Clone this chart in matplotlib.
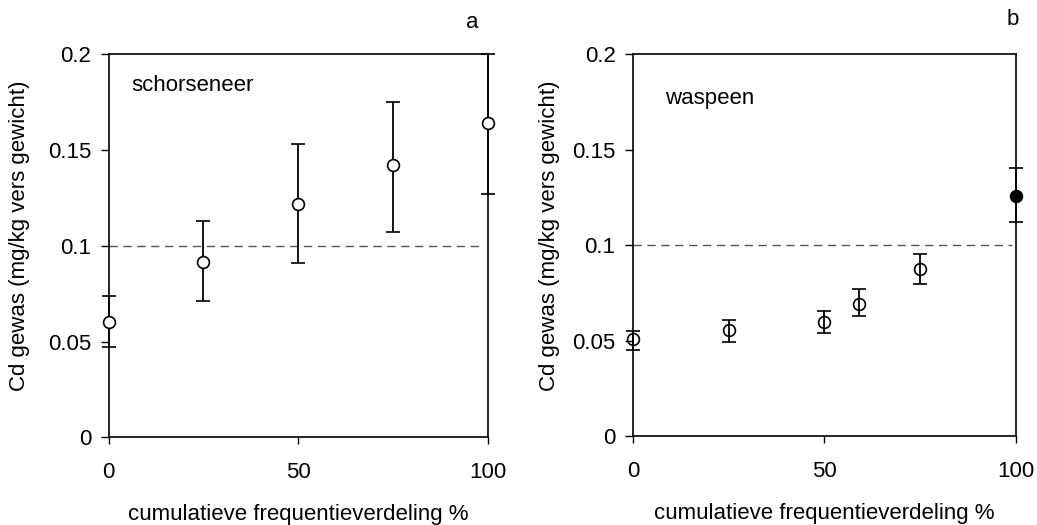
import matplotlib.pyplot as plt

plt.rcParams['font.family'] = ['Liberation Sans', 'DejaVu Sans']
plt.rcParams['font.size'] = 16

# paneel a: schorseneer
x_a = [0, 25, 50, 75, 100]
y_a = [0.060, 0.0915, 0.122, 0.142, 0.164]
lo_a = [0.047, 0.071, 0.091, 0.107, 0.127]
hi_a = [0.074, 0.113, 0.153, 0.175, 0.200]

# paneel b: waspeen (laatste punt gevuld)
x_b = [0, 25, 50, 59, 75]
y_b = [0.051, 0.0555, 0.060, 0.0695, 0.0875]
lo_b = [0.045, 0.0495, 0.054, 0.063, 0.080]
hi_b = [0.055, 0.061, 0.0655, 0.077, 0.0955]
x_b_vol = [100]
y_b_vol = [0.126]
lo_b_vol = [0.112]
hi_b_vol = [0.1405]

norm = 0.1
xticks = [0, 50, 100]
yticks = [0, 0.05, 0.1, 0.15, 0.2]
ytick_labels = ['0', '0.05', '0.1', '0.15', '0.2']

fig = plt.figure(figsize=(10.37, 5.25), dpi=100)
ax1 = fig.add_axes([0.1048, 0.167, 0.3655, 0.7296])
ax2 = fig.add_axes([0.6104, 0.1686, 0.3691, 0.728])


def paneel(ax, x, y, lo, hi, face):
    err = [[v - l for v, l in zip(y, lo)], [h - v for v, h in zip(y, hi)]]
    eb = ax.errorbar(x, y, yerr=err, fmt='o', color='black', mfc=face, mec='black',
                     ms=8.5, mew=1.2, elinewidth=1.3, capsize=4.8, capthick=1.3,
                     zorder=3)
    arts = [eb.lines[0]] + list(eb.lines[1]) + list(eb.lines[2])
    for art in arts:
        art.set_clip_on(False)
    return eb


def opmaak(ax, letter, letter_xy, naam, naam_xy, ylabel_x):
    ax.axhline(norm, color='#555555', lw=1, ls=(0, (6, 4)), zorder=1, xmax=0.99)
    ax.set_xlim(0, 100)
    ax.set_ylim(0, 0.2)
    ax.set_xticks(xticks)
    ax.set_yticks(yticks)
    ax.set_yticklabels(ytick_labels)
    ax.tick_params(axis='x', direction='out', length=5, width=1, pad=13)
    ax.tick_params(axis='y', direction='out', length=5.5, width=1, pad=7)
    for s in ax.spines.values():
        s.set_linewidth(1.2)
    ax.set_xlabel('cumulatieve frequentieverdeling %', labelpad=15)
    ax.set_ylabel('Cd gewas (mg/kg vers gewicht)', va='center')
    ax.yaxis.set_label_coords(ylabel_x, 0.525)
    ax.text(naam_xy[0], naam_xy[1], naam, va='center', ha='left')
    ax.text(letter_xy[0], letter_xy[1], letter, transform=ax.transAxes,
            ha='center', va='center')


paneel(ax1, x_a, y_a, lo_a, hi_a, 'white')
opmaak(ax1, 'a', (0.958, 1.084), 'schorseneer', (6, 0.1835), -0.234)

paneel(ax2, x_b, y_b, lo_b, hi_b, 'none')
paneel(ax2, x_b_vol, y_b_vol, lo_b_vol, hi_b_vol, 'black')
opmaak(ax2, 'b', (0.993, 1.09), 'waspeen', (8.5, 0.177), -0.217)

fig.savefig('out.png', dpi=100)
